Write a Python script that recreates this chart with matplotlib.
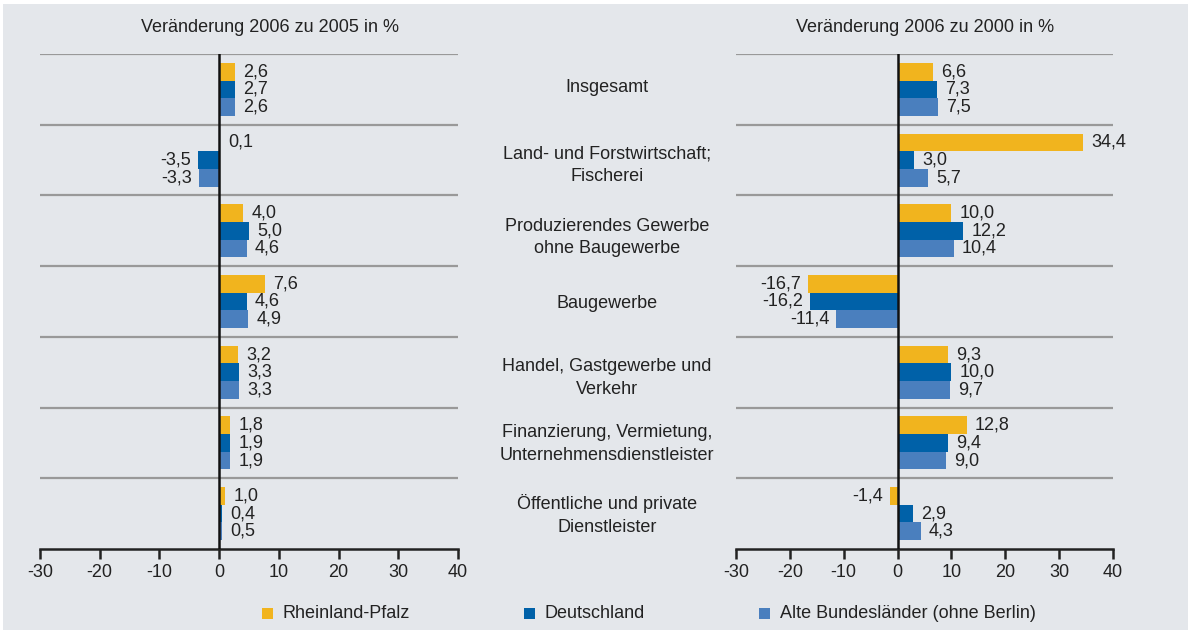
import matplotlib
matplotlib.use("Agg")
import matplotlib.pyplot as plt
import numpy as np
from matplotlib.patches import Rectangle

plt.rcParams["font.family"] = ["Liberation Sans", "DejaVu Sans"]

CATEGORIES = [
    "Insgesamt",
    "Land- und Forstwirtschaft;\nFischerei",
    "Produzierendes Gewerbe\nohne Baugewerbe",
    "Baugewerbe",
    "Handel, Gastgewerbe und\nVerkehr",
    "Finanzierung, Vermietung,\nUnternehmensdienstleister",
    "Öffentliche und private\nDienstleister",
]
SERIES = ["Rheinland-Pfalz", "Deutschland", "Alte Bundesländer (ohne Berlin)"]

# Veränderung 2006 zu 2005 in %
RLP_0605 = [2.6, 0.1, 4.0, 7.6, 3.2, 1.8, 1.0]
DE_0605 = [2.7, -3.5, 5.0, 4.6, 3.3, 1.9, 0.4]
ABL_0605 = [2.6, -3.3, 4.6, 4.9, 3.3, 1.9, 0.5]

# Veränderung 2006 zu 2000 in %
RLP_0600 = [6.6, 34.4, 10.0, -16.7, 9.3, 12.8, -1.4]
DE_0600 = [7.3, 3.0, 12.2, -16.2, 10.0, 9.4, 2.9]
ABL_0600 = [7.5, 5.7, 10.4, -11.4, 9.7, 9.0, 4.3]

TICKS = [-30, -20, -10, 0, 10, 20, 30, 40]
COLORS = ["#F1B41E", "#0061A8", "#4A7FBE"]
BG = "#E4E7EB"
TEXT = "#222222"
FS = 13

W, H = 1191, 634
fig = plt.figure(figsize=(W / 100, H / 100), dpi=100, facecolor="white")
fig.patches.append(Rectangle((3 / W, 4 / H), 1185 / W, 626 / H,
                             transform=fig.transFigure, facecolor=BG,
                             edgecolor="none", zorder=-5))


def fmt(v):
    return f"{v:.1f}".replace(".", ",")


def panel(rect, series):
    ax = fig.add_axes(rect)
    ax.set_facecolor("none")
    n = len(CATEGORIES)
    y = np.arange(n)
    h = 0.25
    for k, (vals, col) in enumerate(zip(series, COLORS)):
        pos = y + (k - 1) * h
        ax.barh(pos, vals, height=h, color=col, zorder=2)
        for p, v in zip(pos, vals):
            ax.annotate(fmt(v), (v, p), xytext=(6 if v >= 0 else -5, 0),
                        textcoords="offset points",
                        ha="left" if v >= 0 else "right", va="center",
                        fontsize=FS, color=TEXT, zorder=3)
    for b in np.arange(-0.5, n - 0.5, 1.0):
        ax.axhline(b, color="#999999", lw=1.6, zorder=1)
    ax.axvline(0, color="#111111", lw=1.8, zorder=4)
    ax.set_xlim(-30, 40)
    ax.set_ylim(n - 0.5, -0.5)
    ax.set_yticks([])
    ax.set_xticks(TICKS)
    ax.set_xticklabels([str(t) for t in TICKS])
    ax.tick_params(axis="x", direction="out", length=7, width=1.8,
                   color="#222222", labelsize=FS, labelcolor=TEXT, pad=4)
    for s in ["top", "left", "right"]:
        ax.spines[s].set_visible(False)
    ax.spines["bottom"].set_linewidth(1.8)
    ax.spines["bottom"].set_color("#222222")
    return ax


bottom = 1 - 549 / H
height = 495 / H
ax1 = panel([40 / W, bottom, 418 / W, height], [RLP_0605, DE_0605, ABL_0605])
ax2 = panel([736 / W, bottom, 377 / W, height], [RLP_0600, DE_0600, ABL_0600])

fig.text(270 / W, 1 - 27 / H, "Veränderung 2006 zu 2005 in %", ha="center",
         va="center", fontsize=FS, color=TEXT)
fig.text(925 / W, 1 - 27 / H, "Veränderung 2006 zu 2000 in %", ha="center",
         va="center", fontsize=FS, color=TEXT)

# category labels between the panels (pixel centres, as in the original layout)
label_y = [88, 165.5, 237.5, 304, 378, 444, 515]
for cat, ypx in zip(CATEGORIES, label_y):
    fig.text(607 / W, 1 - ypx / H, cat, ha="center", va="center",
             fontsize=FS, color=TEXT, linespacing=1.45)

# legend
leg_x = [262, 524, 759]
for x, name, col in zip(leg_x, SERIES, COLORS):
    fig.patches.append(Rectangle((x / W, 1 - 619 / H), 11 / W, 11 / H,
                                 transform=fig.transFigure, facecolor=col,
                                 edgecolor="none", zorder=2))
    fig.text((x + 21) / W, 1 - 613 / H, name, ha="left", va="center",
             fontsize=FS, color=TEXT)

fig.savefig("out.png", dpi=100, facecolor="white")
